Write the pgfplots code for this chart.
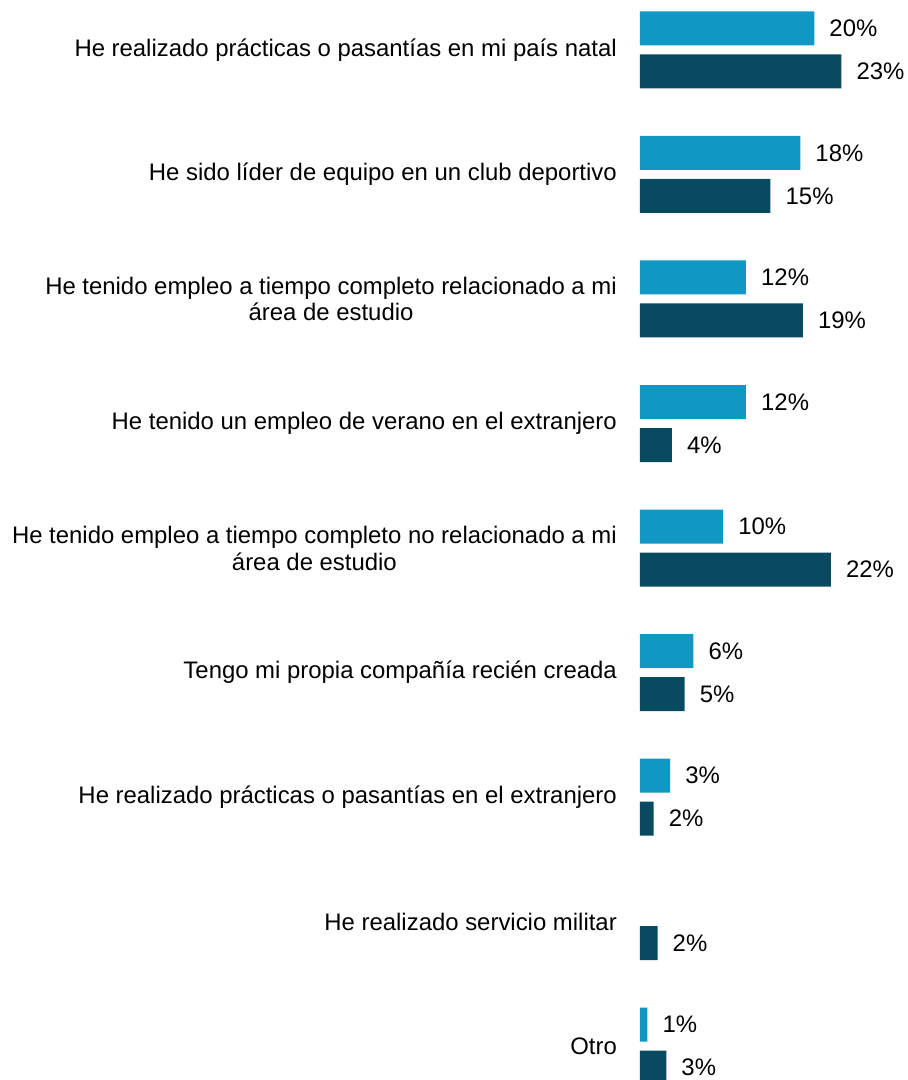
\documentclass[border=0pt]{standalone}
\usepackage{fontspec}
\setmainfont{Liberation Sans}
\usepackage{pgfplots}
\pgfplotsset{compat=1.18}
\definecolor{lightbar}{RGB}{17,151,196}
\definecolor{darkbar}{RGB}{8,74,96}

\begin{document}
\begin{tikzpicture}
\begin{axis}[
    at={(0,0)}, anchor=south west,
    scale only axis,
    width=268bp, height=1080bp,
    xbar, bar width=34bp,
    xmin=0, xmax=30.6,
    ymin=-0.4016, ymax=8.273, y dir=reverse,
    ytick={0,...,8},
    yticklabels={
        {He realizado prácticas o pasantías en mi país natal},
        {He sido líder de equipo en un club deportivo},
        {He tenido empleo a tiempo completo relacionado a mi\\área de estudio},
        {He tenido un empleo de verano en el extranjero},
        {He tenido empleo a tiempo completo no relacionado a mi\\área de estudio},
        {Tengo mi propia compañía recién creada},
        {He realizado prácticas o pasantías en el extranjero},
        {He realizado servicio militar},
        {Otro}},
    xtick=\empty,
    axis line style={draw=none},
    major tick length=0pt,
    yticklabel style={align=center, font=\fontsize{24}{27}\selectfont, inner sep=0pt, xshift=-23bp},
    point meta=explicit symbolic,
    nodes near coords={\pgfplotspointmeta\%},
    nodes near coords style={anchor=west, inner sep=0pt, xshift=15bp, font=\fontsize{24}{27}\selectfont},
    clip=false,
]
% first series (light), bar length read off, label as printed
\addplot[fill=lightbar, draw=none, bar shift=21.5bp] coordinates {
    (19.9,0) [20] (18.3,1) [18] (12.1,2) [12] (12.1,3) [12]
    (9.5,4) [10] (6.1,5) [6] (3.45,6) [3] (0.85,8) [1]
};
% second series (dark)
\addplot[fill=darkbar, draw=none, bar shift=-21.5bp] coordinates {
    (23.0,0) [23] (14.9,1) [15] (18.6,2) [19] (3.65,3) [4]
    (21.8,4) [22] (5.1,5) [5] (1.56,6) [2] (2.0,7) [2] (3.0,8) [3]
};
\end{axis}
\pgfresetboundingbox
\useasboundingbox (-640bp,0) rectangle (268bp,1080bp);
\end{tikzpicture}
\end{document}
